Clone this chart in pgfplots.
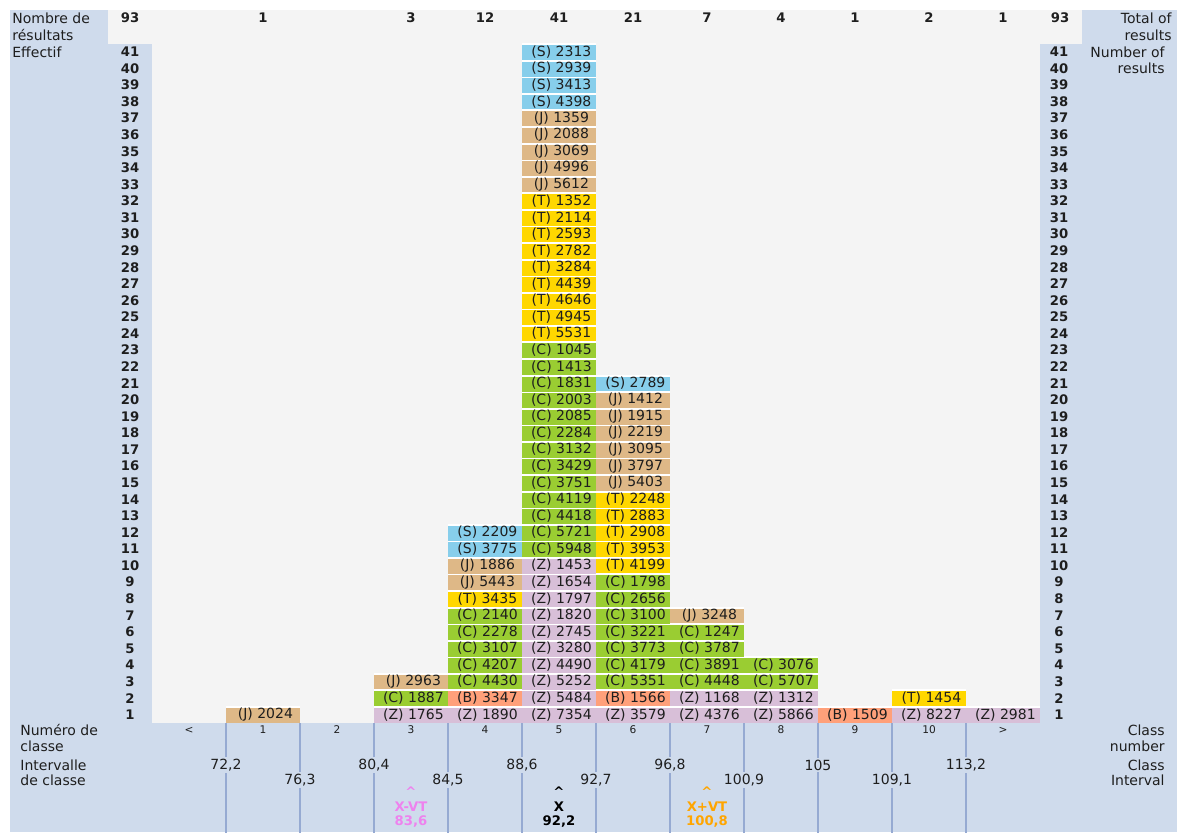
\documentclass[border=0pt]{standalone}
\usepackage{fontspec}
\setmainfont{DejaVu Sans}
\usepackage{pgfplots}
\pgfplotsset{compat=1.18}
\usepackage{pgfplotstable}

\definecolor{cS}{RGB}{135,206,235}
\definecolor{cJ}{RGB}{222,184,135}
\definecolor{cT}{RGB}{255,215,0}
\definecolor{cC}{RGB}{154,205,50}
\definecolor{cZ}{RGB}{216,191,216}
\definecolor{cB}{RGB}{255,160,122}
\definecolor{panel}{RGB}{207,219,236}
\definecolor{bgg}{RGB}{244,244,244}
\definecolor{gridc}{RGB}{150,170,210}
\definecolor{vtm}{RGB}{238,130,238}
\definecolor{vtp}{RGB}{255,165,0}
\definecolor{txt}{RGB}{30,30,30}

\newcommand\fr{\fontsize{7}{8.4}\selectfont}
\newcommand\fb{\bfseries\fontsize{6.6}{7.8}\selectfont}
\newcommand\fs{\fontsize{5.3}{6.4}\selectfont}

% x = class index + 0.5  (< = 0, 1..10, > = 11), y = row
\pgfplotstableread{
x y v
4.5 11 3775
4.5 12 2209
5.5 38 4398
5.5 39 3413
5.5 40 2939
5.5 41 2313
6.5 21 2789
}\dataS

\pgfplotstableread{
x y v
1.5 1 2024
3.5 3 2963
4.5 9 5443
4.5 10 1886
5.5 33 5612
5.5 34 4996
5.5 35 3069
5.5 36 2088
5.5 37 1359
6.5 15 5403
6.5 16 3797
6.5 17 3095
6.5 18 2219
6.5 19 1915
6.5 20 1412
7.5 7 3248
}\dataJ

\pgfplotstableread{
x y v
4.5 8 3435
5.5 24 5531
5.5 25 4945
5.5 26 4646
5.5 27 4439
5.5 28 3284
5.5 29 2782
5.5 30 2593
5.5 31 2114
5.5 32 1352
6.5 10 4199
6.5 11 3953
6.5 12 2908
6.5 13 2883
6.5 14 2248
10.5 2 1454
}\dataT

\pgfplotstableread{
x y v
3.5 2 1887
4.5 3 4430
4.5 4 4207
4.5 5 3107
4.5 6 2278
4.5 7 2140
5.5 11 5948
5.5 12 5721
5.5 13 4418
5.5 14 4119
5.5 15 3751
5.5 16 3429
5.5 17 3132
5.5 18 2284
5.5 19 2085
5.5 20 2003
5.5 21 1831
5.5 22 1413
5.5 23 1045
6.5 3 5351
6.5 4 4179
6.5 5 3773
6.5 6 3221
6.5 7 3100
6.5 8 2656
6.5 9 1798
7.5 3 4448
7.5 4 3891
7.5 5 3787
7.5 6 1247
8.5 3 5707
8.5 4 3076
}\dataC

\pgfplotstableread{
x y v
3.5 1 1765
4.5 1 1890
5.5 1 7354
5.5 2 5484
5.5 3 5252
5.5 4 4490
5.5 5 3280
5.5 6 2745
5.5 7 1820
5.5 8 1797
5.5 9 1654
5.5 10 1453
6.5 1 3579
7.5 1 4376
7.5 2 1168
8.5 1 5866
8.5 2 1312
10.5 1 8227
11.5 1 2981
}\dataZ

\pgfplotstableread{
x y v
4.5 2 3347
6.5 2 1566
9.5 1 1509
}\dataB

\pgfplotsset{
  cell/.style={
    only marks, mark=*, mark size=0pt, mark options={draw=none,fill=none},
    point meta=explicit symbolic,
    nodes near coords={\hspace*{2.4pt}(#1) \pgfplotspointmeta},
    nodes near coords align=center,
    every node near coord/.style={anchor=center, inner sep=0pt,
      minimum width=37pt, minimum height=8.285pt, fill=c#1, text=txt,
      font=\fr,
      path picture={\draw[white, line width=1.5pt]
        (path picture bounding box.north west) -- (path picture bounding box.north east);}}
  }
}

\begin{document}
\begin{tikzpicture}
\path[use as bounding box, clip] (0pt,0pt) rectangle (588.5pt,-416pt);
\begin{scope}[x=0.5pt,y=-0.5pt]
  \fill[white] (0,0) rectangle (1177,832);
  \fill[panel] (10,10) rectangle (1177,832);
  \fill[bgg] (108,10) rectangle (1082,43.6);
\end{scope}

\begin{axis}[
  at={(76pt,-361.5pt)}, anchor=south west,
  scale only axis, width=444pt, height=339.7pt,
  xmin=0, xmax=12, ymin=0.5, ymax=41.5,
  clip=false,
  axis line style={draw=none},
  major tick length=0pt,
  axis background/.style={fill=bgg},
  xtick={0.5,1.5,...,11.5},
  xticklabels={<,1,2,3,4,5,6,7,8,9,10,>},
  xticklabel style={font=\fs, text=txt, anchor=center, yshift=-3.5pt},
  ytick={1,...,41},
  yticklabel style={font=\fb, text=txt, anchor=center, xshift=-11pt,
    /pgf/number format/assume math mode=true},
]
\addplot[cell=S] table[x=x, y=y, meta=v] {\dataS};
\addplot[cell=J] table[x=x, y=y, meta=v] {\dataJ};
\addplot[cell=T] table[x=x, y=y, meta=v] {\dataT};
\addplot[cell=C] table[x=x, y=y, meta=v] {\dataC};
\addplot[cell=Z] table[x=x, y=y, meta=v] {\dataZ};
\addplot[cell=B] table[x=x, y=y, meta=v] {\dataB};
\pgfplotsinvokeforeach{1,...,41}{
  \node[font=\fb, text=txt, anchor=center, xshift=9.5pt] at (axis cs:12,#1) {#1};
}
\end{axis}

\begin{scope}[x=0.5pt,y=-0.5pt, every node/.style={text=txt, font=\fr, inner sep=0pt}]
  % vertical class boundaries in the bottom panel
  \foreach \k in {1,...,11} {
    \draw[gridc, line width=0.6pt] ({152+74*\k},723) -- ({152+74*\k},840);
  }
  % header counts
  \node[font=\fb] at (130,18) {93};
  \node[font=\fb] at (1060,18) {93};
  \foreach \c/\n in {1/1,3/3,4/12,5/41,6/21,7/7,8/4,9/1,10/2,11/1} {
    \node[font=\fb] at ({152+74*\c+37},18) {\n};
  }
  % left labels
  \node[anchor=west] at (12,18) {Nombre de};
  \node[anchor=west] at (12,35) {résultats};
  \node[anchor=west] at (12,52) {Effectif};
  \node[anchor=west] at (20,730) {Numéro de};
  \node[anchor=west] at (20,746) {classe};
  \node[anchor=west] at (20,765) {Intervalle};
  \node[anchor=west] at (20,780) {de classe};
  % right labels
  \node[anchor=east] at (1172,18) {Total of};
  \node[anchor=east] at (1172,35) {results};
  \node[anchor=east] at (1165,52) {Number of};
  \node[anchor=east] at (1165,68) {results};
  \node[anchor=east] at (1165,730) {Class};
  \node[anchor=east] at (1165,746) {number};
  \node[anchor=east] at (1165,765) {Class};
  \node[anchor=east] at (1165,780) {Interval};
  % class interval bounds
  \begin{scope}[every node/.style={text=txt, font=\fr, fill=panel, inner xsep=0.5pt, inner ysep=1pt}]
  \node at (226,765) {72,2};
  \node at (300,780) {76,3};
  \node at (374,765) {80,4};
  \node at (448,780) {84,5};
  \node at (522,765) {88,6};
  \node at (596,780) {92,7};
  \node at (670,765) {96,8};
  \node at (744,780) {100,9};
  \node at (818,765) {105};
  \node at (892,780) {109,1};
  \node at (966,765) {113,2};
  \end{scope}
  % markers
  \node[font=\fb, text=vtm] at (411,792) {\textasciicircum};
  \node[font=\fb, text=vtm] at (411,807) {X-VT};
  \node[font=\fb, text=vtm] at (411,822) {83,6};
  \node[font=\fb, text=black] at (559,792) {\textasciicircum};
  \node[font=\fb, text=black] at (559,807) {X};
  \node[font=\fb, text=black] at (559,822) {92,2};
  \node[font=\fb, text=vtp] at (707,792) {\textasciicircum};
  \node[font=\fb, text=vtp] at (707,807) {X+VT};
  \node[font=\fb, text=vtp] at (707,822) {100,8};
\end{scope}
\end{tikzpicture}
\end{document}
